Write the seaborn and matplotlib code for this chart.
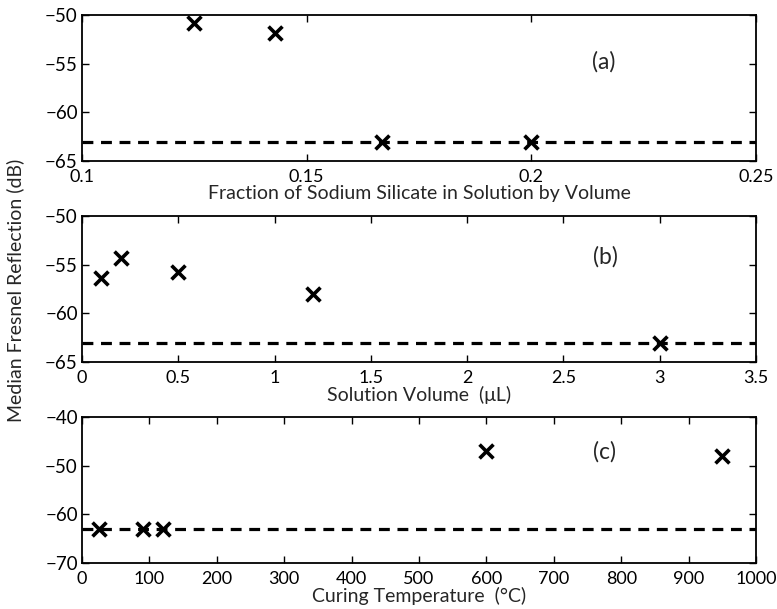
import numpy as np
import pandas as pd
import matplotlib
matplotlib.use("Agg")
import matplotlib.pyplot as plt
import seaborn as sns

sns.set_style("ticks")
plt.rcParams['font.family'] = ['Lato', 'DejaVu Sans']

# Data
fraction = [0.125, 0.1429, 0.1667, 0.2]
fraction_db = [-50.8, -51.8, -63.0, -63.0]

volume = [0.1, 0.2, 0.5, 1.2, 3.0]
volume_db = [-56.4, -54.3, -55.8, -58.0, -63.0]

temperature = [25, 90, 120, 600, 950]
temperature_db = [-63.0, -63.0, -63.0, -47.0, -48.0]

noise_floor = -63.0

panels = [
    dict(x=fraction, y=fraction_db, xlim=(0.1, 0.25), xticks=[0.1, 0.15, 0.2, 0.25],
         xticklabels=['0.1', '0.15', '0.2', '0.25'],
         ylim=(-65, -50), yticks=[-65, -60, -55, -50],
         xlabel="Fraction of Sodium Silicate in Solution by Volume",
         tag="(a)", tag_pos=(0.216, -54.8)),
    dict(x=volume, y=volume_db, xlim=(0, 3.5), xticks=[0, 0.5, 1, 1.5, 2, 2.5, 3, 3.5],
         xticklabels=['0', '0.5', '1', '1.5', '2', '2.5', '3', '3.5'],
         ylim=(-65, -50), yticks=[-65, -60, -55, -50],
         xlabel="Solution Volume  (\u03bcL)",
         tag="(b)", tag_pos=(2.72, -54.2)),
    dict(x=temperature, y=temperature_db, xlim=(0, 1000), xticks=list(range(0, 1001, 100)),
         xticklabels=[str(v) for v in range(0, 1001, 100)],
         ylim=(-70, -40), yticks=[-70, -60, -50, -40],
         xlabel="Curing Temperature  (\u00b0C)",
         tag="(c)", tag_pos=(775, -47.2)),
]

fig = plt.figure(figsize=(7.77, 6.09), dpi=100)
W, H = 777, 609
left, right = 82, 756
tops = [15, 216, 417]
height = 146

for p, top in zip(panels, tops):
    ax = fig.add_axes([left / W, 1 - (top + height) / H, (right - left) / W, height / H])
    ax.axhline(noise_floor, color='black', linestyle=(0, (3.4, 2.4)), linewidth=2.3, zorder=1)
    df = pd.DataFrame({'x': p['x'], 'y': p['y']})
    sns.scatterplot(data=df, x='x', y='y', ax=ax, marker='x', color='black',
                    s=100, linewidth=2.6, zorder=3)
    ax.set_xlim(*p['xlim'])
    ax.set_ylim(*p['ylim'])
    ax.set_xticks(p['xticks'])
    ax.set_xticklabels(p['xticklabels'])
    ax.set_yticks(p['yticks'])
    ax.set_yticklabels(['\u2212' + str(abs(v)) for v in p['yticks']])
    ax.tick_params(direction='in', top=True, right=True, length=5, width=1,
                   colors='black')
    ax.tick_params(axis='x', pad=6, labelsize=13)
    ax.tick_params(axis='y', pad=3, labelsize=13.5)
    for s in ax.spines.values():
        s.set_linewidth(1.3)
        s.set_color('black')
    ax.set_xlabel(p['xlabel'], fontsize=14, labelpad=0)
    ax.set_ylabel('')
    ax.text(*p['tag_pos'], p['tag'], fontsize=16.5, ha='center', va='center')

fig.text(15 / W, 1 - 290 / H, "Median Fresnel Reflection (dB)", rotation=90,
         ha='center', va='center', fontsize=14)

plt.savefig("out.png", dpi=100)
